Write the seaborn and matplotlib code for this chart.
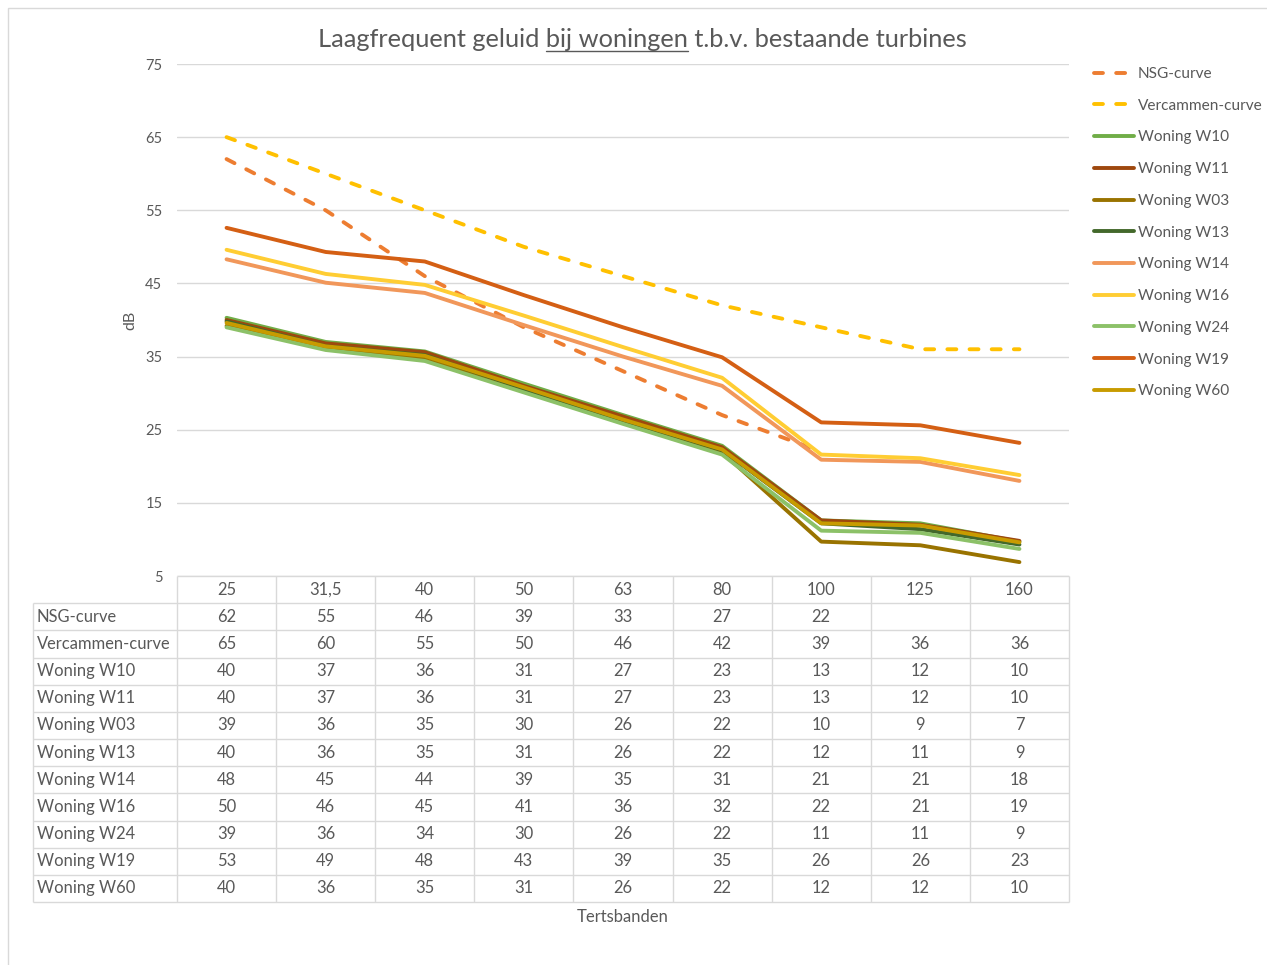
import numpy as np
import pandas as pd
import matplotlib
matplotlib.use("Agg")
import matplotlib.pyplot as plt
import seaborn as sns
from matplotlib.lines import Line2D
from matplotlib.patches import Rectangle
from matplotlib.transforms import IdentityTransform

# Third-octave bands (Hz) and measured / limit levels (dB)
bands = ["25", "31,5", "40", "50", "63", "80", "100", "125", "160"]

nsg_curve = [62, 55, 46, 39, 33, 27, 22, np.nan, np.nan]
vercammen_curve = [65, 60, 55, 50, 46, 42, 39, 36, 36]
woning_w10 = [40.3, 37.0, 35.7, 31.3, 27.0, 22.8, 12.6, 12.2, 9.7]
woning_w11 = [40.0, 36.8, 35.6, 31.0, 26.8, 22.6, 12.6, 12.0, 9.8]
woning_w03 = [39.2, 36.2, 34.8, 30.4, 26.1, 21.9, 9.7, 9.2, 6.9]
woning_w13 = [39.8, 36.4, 35.2, 30.6, 26.3, 22.2, 12.2, 11.4, 9.3]
woning_w14 = [48.3, 45.1, 43.7, 39.3, 35.0, 31.0, 20.9, 20.6, 18.0]
woning_w16 = [49.6, 46.3, 44.8, 40.6, 36.3, 32.1, 21.6, 21.1, 18.8]
woning_w24 = [39.0, 35.9, 34.4, 30.1, 25.8, 21.6, 11.2, 10.9, 8.7]
woning_w19 = [52.6, 49.3, 48.0, 43.4, 39.0, 34.9, 26.0, 25.6, 23.2]
woning_w60 = [39.6, 36.4, 35.1, 30.8, 26.4, 22.3, 12.2, 11.9, 9.6]

series_names = ["NSG-curve", "Vercammen-curve", "Woning W10", "Woning W11",
                "Woning W03", "Woning W13", "Woning W14", "Woning W16",
                "Woning W24", "Woning W19", "Woning W60"]
series_values = [nsg_curve, vercammen_curve, woning_w10, woning_w11,
                 woning_w03, woning_w13, woning_w14, woning_w16,
                 woning_w24, woning_w19, woning_w60]
series_colors = ["#ED7D31", "#FFC000", "#70AD47", "#9E480E", "#997300",
                 "#43682B", "#F1975A", "#FFCD33", "#8CC168", "#D45F14",
                 "#C89B00"]
dashed = {"NSG-curve", "Vercammen-curve"}

W, H = 1267, 965
TXT = "#595959"
GRID = "#D9D9D9"

sns.set_style("white")
plt.rcParams["font.family"] = ["Lato", "DejaVu Sans"]
plt.rcParams["lines.dash_capstyle"] = "round"
plt.rcParams["lines.solid_capstyle"] = "round"
plt.rcParams["lines.solid_joinstyle"] = "round"
plt.rcParams["lines.dash_joinstyle"] = "round"
plt.rcParams["text.color"] = TXT


def fx(px):
    return px / W


def fy(py):
    return 1 - py / H


fig = plt.figure(figsize=(W / 100, H / 100), dpi=100)
fig.patch.set_facecolor("white")

# chart frame
fig.add_artist(Rectangle((8, -5), W + 10, H - 8 + 5, transform=IdentityTransform(),
                         fill=False, edgecolor=GRID, lw=1.0))

# plot area
left, right, top, bottom = 177, 1069, 64, 576
ax = fig.add_axes([fx(left), fy(bottom), fx(right - left), (bottom - top) / H])

records = []
for name, vals in zip(series_names, series_values):
    for i, v in enumerate(vals):
        records.append({"pos": i, "dB": v, "series": name})
df = pd.DataFrame(records)

palette = dict(zip(series_names, series_colors))
dash_map = {n: ((2.3, 3.4) if n in dashed else "") for n in series_names}

sns.lineplot(data=df, x="pos", y="dB", hue="series", hue_order=series_names,
             palette=palette, style="series", style_order=series_names,
             dashes=dash_map, linewidth=2.8, sort=False, estimator=None,
             legend=False, ax=ax)

ax.set_xlim(-0.5, len(bands) - 0.5)
ax.set_ylim(5, 75)
ax.set_yticks(range(5, 76, 10))
ax.set_xticks([])
ax.set_xlabel("")
ax.set_ylabel("")
ax.grid(axis="y", color=GRID, lw=1.0)
ax.set_axisbelow(True)
for s in ax.spines.values():
    s.set_visible(False)
ax.tick_params(axis="y", length=0, pad=10.5, labelsize=10.5, labelcolor=TXT)
ax.set_facecolor("none")

fig.text(fx(130), fy(320), "dB", rotation=90, ha="center", va="center",
         fontsize=11.5, color=TXT)

# title with underlined part
title_fs = 18.3
prefix, mid, suffix = "Laagfrequent geluid", "bij woningen", "t.b.v. bestaande turbines"
full = f"{prefix} {mid} {suffix}"
title = fig.text(fx(642), fy(47), full, ha="center", va="baseline",
                 fontsize=title_fs, color=TXT)
renderer = fig.canvas.get_renderer()


def text_width(s):
    t = fig.text(0, 0, s, fontsize=title_fs)
    w = t.get_window_extent(renderer).width
    t.remove()
    return w


tb = title.get_window_extent(renderer)
u_end = tb.x0 + text_width(f"{prefix} {mid}")
u_start = u_end - text_width(mid)
uy = H - 50.5
fig.add_artist(Line2D([u_start, u_end], [uy, uy], transform=IdentityTransform(),
                      color=TXT, lw=1.0))

# legend
handles = ax.get_lines()[:len(series_names)]
fig.legend(handles, series_names, loc="upper left",
           bbox_to_anchor=(fx(1094), fy(67)), frameon=False, fontsize=11.1,
           handlelength=2.6, handletextpad=0.25, labelspacing=1.15,
           borderpad=0, borderaxespad=0, labelcolor=TXT)

# data table below the plot
tab_left, tab_bottom = 33, 902
label_units = (left - tab_left) / (right - left) * len(bands)
tax = fig.add_axes([fx(tab_left), fy(tab_bottom), fx(right - tab_left),
                    (tab_bottom - bottom) / H])
n_rows = len(series_names) + 1
tax.set_xlim(-0.5 - label_units, len(bands) - 0.5)
tax.set_ylim(n_rows, 0)
tax.axis("off")

lc = dict(color=GRID, lw=1.0, clip_on=False)
x_lab = -0.5 - label_units
x_end = len(bands) - 0.5
# horizontal lines
tax.hlines(0, -0.5, x_end, **lc)
for r in range(1, n_rows + 1):
    tax.hlines(r, x_lab, x_end, **lc)
# vertical lines
tax.vlines(x_lab, 1, n_rows, **lc)
for c in range(len(bands) + 1):
    tax.vlines(c - 0.5, 0, n_rows, **lc)

cell_fs = 11.9
for c, b in enumerate(bands):
    tax.text(c, 0.5, b, ha="center", va="center", fontsize=cell_fs, color=TXT)
for r, (name, vals) in enumerate(zip(series_names, series_values), start=1):
    tax.text(x_lab + 0.04, r + 0.5, name, ha="left", va="center",
             fontsize=cell_fs, color=TXT)
    for c, v in enumerate(vals):
        if not np.isnan(v):
            tax.text(c, r + 0.5, f"{v:.0f}", ha="center", va="center",
                     fontsize=cell_fs, color=TXT)

fig.text(fx((left + right) / 2), fy(917), "Tertsbanden", ha="center",
         va="center", fontsize=12, color=TXT)

fig.savefig("out.png", dpi=100, facecolor="white")
